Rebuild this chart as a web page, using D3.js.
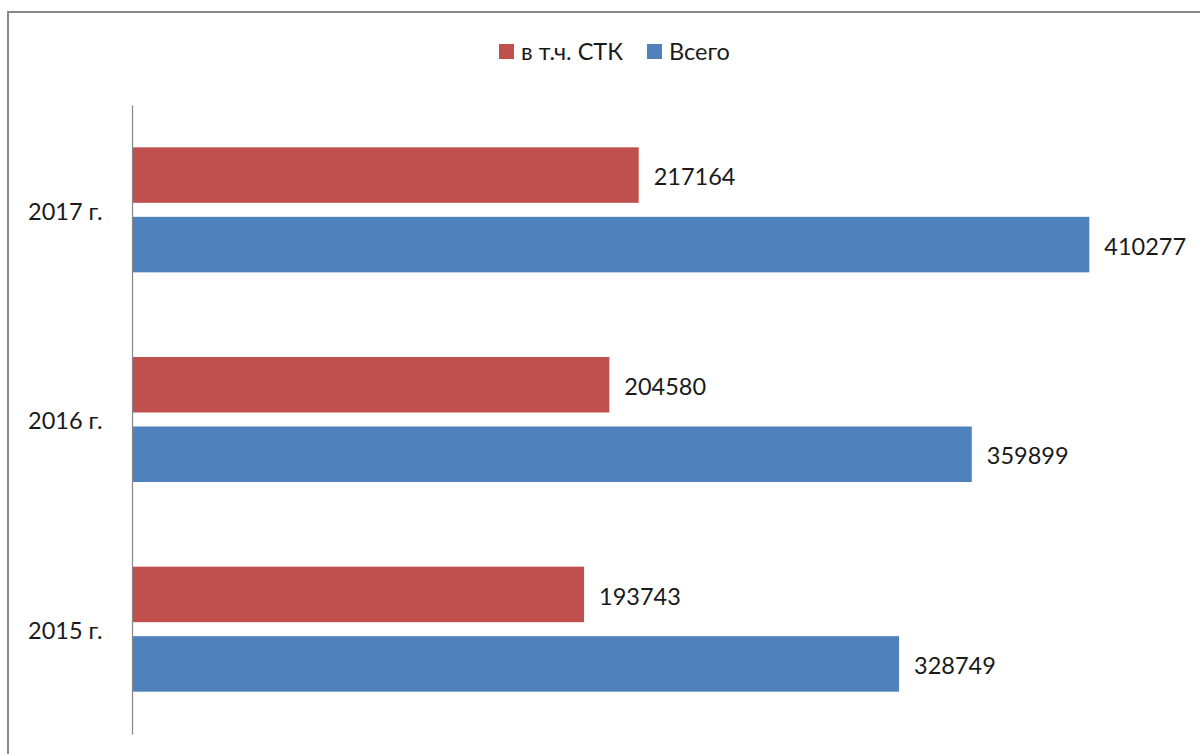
<!DOCTYPE html>
<html><head><meta charset="utf-8">
<script src="https://cdn.jsdelivr.net/npm/d3@7"></script>
<style>body{margin:0;background:#fff;} text{font-family:Lato, "Open Sans", sans-serif;fill:#1a1a1a;}</style>
</head><body>
<svg id="c" width="1200" height="754"></svg>
<script>
const categories = ["2017 г.", "2016 г.", "2015 г."];
const seriesNames = ["в т.ч. СТК", "Всего"];
const stkValues = [217164, 204580, 193743];
const totalValues = [410277, 359899, 328749];
const seriesColors = ["#C0504D", "#4F81BD"];

const svg = d3.select("#c");
svg.append("rect").attr("x", 8).attr("y", 12).attr("width", 1210).attr("height", 760)
  .attr("fill", "#fff").attr("stroke", "#898989").attr("stroke-width", 2);

const x = d3.scaleLinear().domain([0, 450000]).range([132, 1182]);
const y = d3.scaleBand().domain(categories).range([105, 734]);
const inner = d3.scaleBand().domain(seriesNames).range([0, y.bandwidth()])
  .paddingInner(0.2014).paddingOuter(0.609);

const data = [];
categories.forEach((c, i) => {
  data.push({cat: c, s: seriesNames[0], v: stkValues[i], col: seriesColors[0]});
  data.push({cat: c, s: seriesNames[1], v: totalValues[i], col: seriesColors[1]});
});

const g = svg.append("g");
g.selectAll("rect.bar").data(data).join("rect").attr("class", "bar")
  .attr("x", x(0)).attr("y", d => y(d.cat) + inner(d.s))
  .attr("width", d => x(d.v) - x(0)).attr("height", inner.bandwidth())
  .attr("fill", d => d.col);

g.selectAll("text.val").data(data).join("text").attr("class", "val")
  .attr("x", d => x(d.v) + 15).attr("y", d => y(d.cat) + inner(d.s) + inner.bandwidth() / 2 + 2)
  .attr("dy", "0.35em").attr("font-size", 23.5).text(d => d.v);

const yAxis = d3.axisLeft(y).tickSize(0).tickPadding(29.5);
const ax = svg.append("g").attr("transform", `translate(${x(0)},0)`).call(yAxis);
ax.select(".domain").attr("stroke", "#868686").attr("stroke-width", 1.2);
ax.selectAll("text").attr("font-size", 23.5).attr("fill", "#1a1a1a")
  .style("font-family", "Lato, 'Open Sans', sans-serif").attr("dy", "0.42em");

// legend
const legend = svg.append("g");
const legX = [499, 647];
seriesNames.forEach((s, i) => {
  legend.append("rect").attr("x", legX[i]).attr("y", 44).attr("width", 15).attr("height", 15).attr("fill", seriesColors[i]);
  legend.append("text").attr("x", legX[i] + 22).attr("y", 52).attr("dy", "0.35em")
    .attr("font-size", 23.5).text(s);
});
</script>
</body></html>
